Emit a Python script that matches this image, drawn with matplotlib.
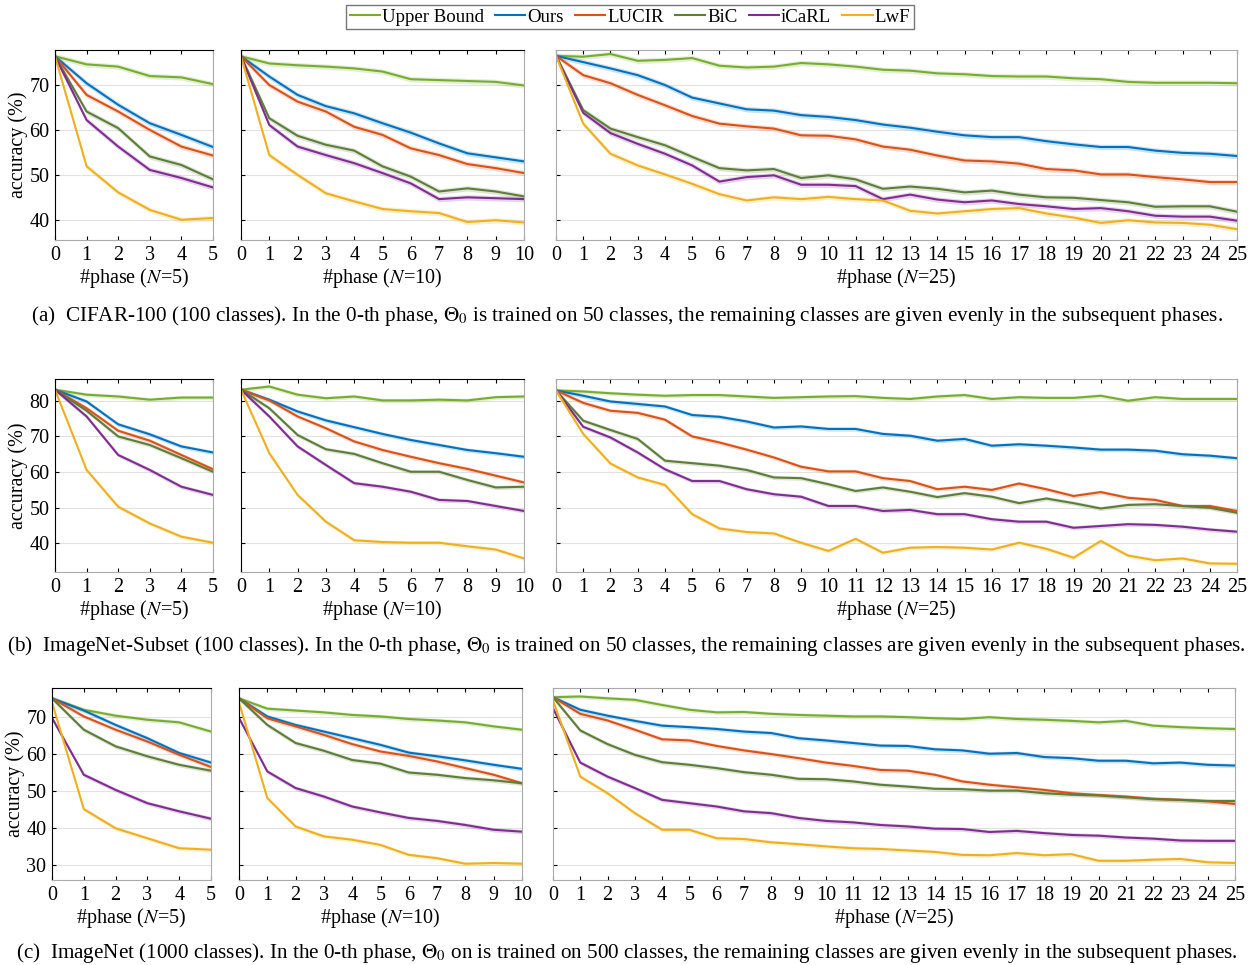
import numpy as np
import matplotlib.pyplot as plt

plt.rcParams['font.family'] = ['Liberation Serif', 'DejaVu Serif']
plt.rcParams['mathtext.fontset'] = 'stix'

methods = ['Upper Bound', 'Ours', 'LUCIR', 'BiC', 'iCaRL', 'LwF']
colors = ['#77AC30', '#0072BD', '#D95319', '#5E7D3A', '#7E2F8E', '#EDB120']

# CIFAR-100
cifar_n5 = {
    'Upper Bound': [76.4, 74.6, 74.1, 72.0, 71.7, 70.2],
    'Ours': [76.4, 70.4, 65.6, 61.5, 58.9, 56.2],
    'LUCIR': [76.4, 67.8, 64.1, 60.0, 56.3, 54.3],
    'BiC': [76.4, 64.1, 60.4, 54.1, 52.2, 49.0],
    'iCaRL': [76.4, 62.2, 56.3, 51.1, 49.3, 47.2],
    'LwF': [76.4, 51.9, 46.1, 42.2, 40.0, 40.4],
}
cifar_n10 = {
    'Upper Bound': [76.4, 74.8, 74.4, 74.1, 73.7, 73.0, 71.3, 71.1, 70.9, 70.7, 69.9],
    'Ours': [76.4, 71.9, 67.8, 65.3, 63.7, 61.5, 59.4, 57.0, 54.8, 53.9, 53.0],
    'LUCIR': [76.4, 70.0, 66.3, 64.1, 60.7, 58.9, 55.9, 54.4, 52.4, 51.5, 50.4],
    'BiC': [76.4, 62.6, 58.7, 56.7, 55.4, 51.9, 49.6, 46.3, 47.0, 46.3, 45.2],
    'iCaRL': [76.4, 61.1, 56.3, 54.4, 52.6, 50.4, 48.1, 44.6, 45.0, 44.8, 44.6],
    'LwF': [76.4, 54.4, 50.0, 45.9, 44.1, 42.4, 41.9, 41.5, 39.5, 39.9, 39.4],
}
cifar_n25 = {
    'Upper Bound': [76.5, 76.3, 76.9, 75.4, 75.6, 76.0, 74.3, 73.9, 74.1, 74.9, 74.6, 74.1, 73.4,
                    73.2, 72.6, 72.4, 72.0, 71.9, 71.9, 71.5, 71.3, 70.7, 70.5, 70.5, 70.5, 70.4],
    'Ours': [76.5, 75.1, 73.7, 72.2, 70.0, 67.2, 65.9, 64.6, 64.3, 63.3, 62.9, 62.2, 61.2,
             60.5, 59.6, 58.8, 58.4, 58.4, 57.5, 56.8, 56.2, 56.2, 55.4, 54.9, 54.7, 54.2],
    'LUCIR': [76.5, 72.2, 70.4, 67.8, 65.5, 63.1, 61.4, 60.8, 60.3, 58.8, 58.7, 57.9, 56.3,
              55.6, 54.3, 53.2, 53.0, 52.5, 51.3, 51.0, 50.1, 50.1, 49.5, 49.0, 48.4, 48.4],
    'BiC': [76.5, 64.4, 60.3, 58.4, 56.6, 54.0, 51.5, 51.0, 51.3, 49.3, 49.9, 49.0, 46.9,
            47.4, 46.9, 46.1, 46.5, 45.6, 45.0, 44.9, 44.4, 43.9, 42.9, 43.0, 43.0, 41.8],
    'iCaRL': [76.5, 63.8, 59.3, 56.9, 54.7, 52.1, 48.5, 49.5, 49.9, 47.8, 47.8, 47.5, 44.6,
              45.6, 44.5, 43.9, 44.3, 43.5, 43.0, 42.4, 42.6, 41.9, 40.9, 40.7, 40.7, 39.8],
    'LwF': [76.5, 61.4, 54.7, 52.1, 50.1, 48.0, 45.7, 44.3, 45.0, 44.6, 45.1, 44.6, 44.3,
            42.0, 41.4, 41.9, 42.4, 42.6, 41.4, 40.5, 39.3, 39.9, 39.4, 39.3, 38.9, 37.9],
}

# ImageNet-Subset
subset_n5 = {
    'Upper Bound': [83.1, 81.7, 81.2, 80.3, 80.9, 80.9],
    'Ours': [83.1, 79.8, 73.4, 70.6, 67.2, 65.5],
    'LUCIR': [83.1, 77.9, 71.6, 68.8, 64.8, 60.8],
    'BiC': [83.1, 77.2, 70.0, 67.6, 63.9, 60.1],
    'iCaRL': [83.1, 75.6, 64.8, 60.6, 55.9, 53.6],
    'LwF': [83.1, 60.6, 50.3, 45.6, 41.9, 40.2],
}
subset_n10 = {
    'Upper Bound': [83.1, 84.0, 81.7, 80.7, 81.2, 80.1, 80.1, 80.3, 80.1, 81.0, 81.2],
    'Ours': [83.1, 80.3, 77.0, 74.5, 72.6, 70.7, 69.0, 67.6, 66.2, 65.3, 64.3],
    'LUCIR': [83.1, 80.1, 75.6, 72.3, 68.6, 66.2, 64.3, 62.5, 60.9, 59.0, 57.1],
    'BiC': [83.1, 77.9, 70.4, 66.4, 65.1, 62.5, 60.1, 60.1, 57.8, 55.7, 55.9],
    'iCaRL': [83.1, 75.6, 67.2, 62.0, 56.9, 55.9, 54.5, 52.2, 51.9, 50.5, 49.1],
    'LwF': [83.1, 65.3, 53.6, 46.1, 40.9, 40.4, 40.2, 40.2, 39.2, 38.3, 35.8],
}
subset_n25 = {
    'Upper Bound': [82.9, 82.6, 82.1, 81.7, 81.4, 81.6, 81.6, 81.2, 80.8, 81.0, 81.2, 81.3, 80.8,
                    80.5, 81.2, 81.6, 80.5, 81.0, 80.8, 80.8, 81.4, 80.0, 81.0, 80.5, 80.5, 80.5],
    'Ours': [82.9, 81.4, 79.8, 79.1, 78.4, 76.0, 75.5, 74.2, 72.5, 72.8, 72.1, 72.1, 70.7,
             70.2, 68.8, 69.3, 67.4, 67.8, 67.4, 66.9, 66.3, 66.3, 66.0, 65.0, 64.6, 63.9],
    'LUCIR': [82.9, 79.4, 77.2, 76.6, 74.7, 70.0, 68.3, 66.3, 64.1, 61.5, 60.2, 60.2, 58.3,
              57.5, 55.2, 55.9, 55.0, 56.8, 55.2, 53.3, 54.4, 52.8, 52.2, 50.5, 50.5, 49.1],
    'BiC': [82.9, 74.4, 71.8, 69.3, 63.2, 62.5, 61.8, 60.6, 58.5, 58.3, 56.6, 54.7, 55.7,
            54.5, 53.0, 54.1, 53.1, 51.3, 52.6, 51.3, 49.8, 50.8, 51.0, 50.5, 50.0, 48.6],
    'iCaRL': [82.9, 72.7, 69.7, 65.5, 60.8, 57.5, 57.5, 55.2, 53.8, 53.1, 50.5, 50.5, 49.1,
              49.4, 48.2, 48.2, 46.8, 46.1, 46.1, 44.4, 44.9, 45.4, 45.2, 44.7, 43.9, 43.3],
    'LwF': [82.9, 70.7, 62.4, 58.5, 56.4, 48.2, 44.2, 43.2, 42.8, 40.2, 37.9, 41.3, 37.4,
            38.8, 39.0, 38.8, 38.3, 40.2, 38.5, 36.0, 40.7, 36.6, 35.3, 35.8, 34.4, 34.3],
}

# ImageNet
imnet_n5 = {
    'Upper Bound': [75.1, 72.0, 70.4, 69.3, 68.6, 66.1],
    'Ours': [75.1, 71.8, 67.9, 64.3, 60.3, 57.7],
    'LUCIR': [75.1, 70.2, 66.6, 63.4, 59.8, 56.5],
    'BiC': [75.1, 66.6, 62.1, 59.4, 57.1, 55.5],
    'iCaRL': [69.8, 54.4, 50.3, 46.7, 44.5, 42.5],
    'LwF': [74.0, 45.1, 39.9, 37.2, 34.5, 34.1],
}
imnet_n10 = {
    'Upper Bound': [75.1, 72.3, 71.8, 71.3, 70.6, 70.2, 69.5, 69.1, 68.6, 67.5, 66.6],
    'Ours': [75.1, 70.2, 67.9, 66.1, 64.3, 62.5, 60.4, 59.4, 58.3, 57.1, 56.0],
    'LUCIR': [75.1, 69.7, 67.5, 65.2, 62.7, 60.7, 59.5, 58.0, 56.2, 54.4, 52.1],
    'BiC': [75.1, 67.9, 63.0, 60.9, 58.4, 57.4, 55.0, 54.4, 53.5, 52.9, 52.1],
    'iCaRL': [69.8, 55.3, 50.8, 48.5, 45.8, 44.2, 42.7, 41.9, 40.8, 39.5, 39.0],
    'LwF': [74.0, 48.1, 40.4, 37.7, 36.8, 35.4, 32.7, 31.8, 30.3, 30.5, 30.3],
}
imnet_n25 = {
    'Upper Bound': [75.4, 75.6, 75.1, 74.7, 73.3, 72.0, 71.3, 71.4, 70.9, 70.6, 70.4, 70.2, 70.2,
                    70.0, 69.7, 69.5, 70.0, 69.5, 69.3, 69.0, 68.6, 69.0, 67.7, 67.3, 67.0, 66.8],
    'Ours': [75.4, 72.0, 70.4, 69.0, 67.7, 67.3, 66.8, 66.1, 65.7, 64.3, 63.7, 63.0, 62.3,
             62.2, 61.3, 61.0, 60.1, 60.3, 59.2, 58.9, 58.2, 58.2, 57.5, 57.7, 57.1, 56.9],
    'LUCIR': [75.4, 70.9, 69.1, 66.6, 64.0, 63.7, 62.2, 61.0, 60.0, 58.9, 57.7, 56.8, 55.7,
              55.5, 54.4, 52.6, 51.7, 51.0, 50.3, 49.4, 48.9, 48.5, 47.9, 47.6, 47.2, 46.5],
    'BiC': [75.4, 66.4, 62.7, 59.8, 57.8, 57.1, 56.2, 55.1, 54.4, 53.3, 53.2, 52.6, 51.7,
            51.2, 50.6, 50.5, 50.1, 50.1, 49.4, 49.0, 48.8, 48.3, 47.8, 47.6, 47.3, 47.3],
    'iCaRL': [72.4, 57.7, 53.9, 50.8, 47.6, 46.7, 45.8, 44.5, 44.0, 42.7, 41.9, 41.5, 40.8,
              40.4, 39.8, 39.7, 38.9, 39.2, 38.6, 38.1, 37.9, 37.4, 37.1, 36.6, 36.5, 36.5],
    'LwF': [74.5, 53.9, 49.4, 44.0, 39.5, 39.5, 37.2, 37.0, 36.1, 35.6, 35.0, 34.5, 34.3,
            33.9, 33.5, 32.7, 32.6, 33.2, 32.6, 32.9, 31.1, 31.1, 31.4, 31.6, 30.7, 30.5],
}

rows = [[cifar_n5, cifar_n10, cifar_n25],
        [subset_n5, subset_n10, subset_n25],
        [imnet_n5, imnet_n10, imnet_n25]]
phase_counts = [5, 10, 25]
row_ylims = [(35.5, 77.8), (32.0, 86.1), (25.9, 77.9)]
row_yticks = [[40, 50, 60, 70], [40, 50, 60, 70, 80], [30, 40, 50, 60, 70]]
captions = [
    r'(a)  CIFAR-100 (100 classes). In the 0-th phase, $\Theta_0$ is trained on 50 classes, the remaining classes are given evenly in the subsequent phases.',
    r'(b)  ImageNet-Subset (100 classes). In the 0-th phase, $\Theta_0$ is trained on 50 classes, the remaining classes are given evenly in the subsequent phases.',
    r'(c)  ImageNet (1000 classes). In the 0-th phase, $\Theta_0$ on is trained on 500 classes, the remaining classes are given evenly in the subsequent phases.',
]

W, H = 1253, 965
fig = plt.figure(figsize=(W / 100, H / 100), dpi=100)

# pixel boxes (top, bottom) per row, (left, right) per column
row_px = [(50, 240), (379, 572), (688, 880)]
col_px = [[(55, 213), (241, 524), (556, 1237)],
          [(55, 213), (241, 524), (556, 1237)],
          [(52, 211), (239, 522), (553, 1235)]]
caption_y = [316, 646, 953]
band = 0.6

handles = []
for r in range(3):
    top, bot = row_px[r]
    for c in range(3):
        l, rr = col_px[r][c]
        ax = fig.add_axes([l / W, 1 - bot / H, (rr - l) / W, (bot - top) / H])
        data = rows[r][c]
        n = phase_counts[c]
        x = np.arange(n + 1)
        for m, col in zip(methods, colors):
            y = np.array(data[m])
            ax.fill_between(x, y - band, y + band, color=col, alpha=0.2, lw=0)
            h, = ax.plot(x, y, color=col, lw=1.5, label=m)
            if r == 0 and c == 0:
                handles.append(h)
        ax.set_xlim(0, n)
        ax.set_ylim(*row_ylims[r])
        ax.set_xticks(x)
        ax.set_yticks(row_yticks[r])
        ax.yaxis.grid(True, color='#e2e2e2', lw=0.8)
        ax.set_axisbelow(True)
        ax.tick_params(direction='in', top=True, labelsize=14.5, length=3, pad=4)
        ax.set_xlabel(r'#phase ($N$=%d)' % n, fontsize=14.5, labelpad=1)
        if c == 0:
            ax.set_ylabel('accuracy (%)', fontsize=14.5, labelpad=1)
        else:
            ax.tick_params(labelleft=False)
        for s in ax.spines.values():
            s.set_color('#aaaaaa')
            s.set_linewidth(0.8)
        if c < 2:
            ax.spines['top'].set_color('black')
            ax.spines['left'].set_color('black')
    fig.text(0.5, 1 - caption_y[r] / H, captions[r], ha='center', va='center', fontsize=15.2)

leg = fig.legend(handles=handles, loc='center', bbox_to_anchor=(630 / W, 1 - 17 / H),
                 ncol=6, fontsize=13.6, frameon=True, fancybox=False, handlelength=1.6,
                 handletextpad=0.1, columnspacing=0.6, borderpad=0.2, borderaxespad=0)
leg.get_frame().set_edgecolor('#555555')
leg.get_frame().set_linewidth(1.0)

fig.savefig('out.png', dpi=100)
